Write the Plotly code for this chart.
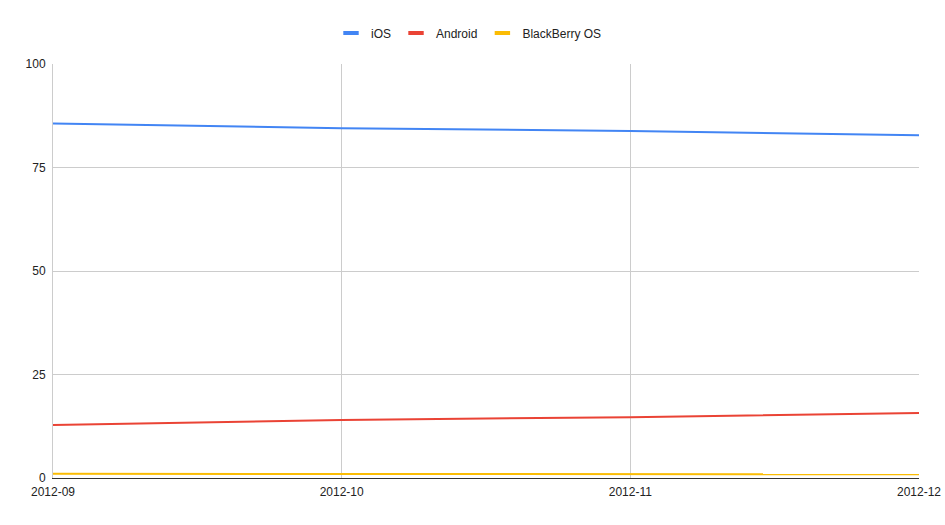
import plotly.graph_objects as go

months = ["2012-09", "2012-10", "2012-11", "2012-12"]
ios = [85.6, 84.5, 83.8, 82.8]
android = [12.8, 14.0, 14.7, 15.7]
blackberry = [1.0, 0.95, 0.95, 0.9]

series = [("iOS", ios, "#4285F4"), ("Android", android, "#EA4335"), ("BlackBerry OS", blackberry, "#FBBC04")]

fig = go.Figure()
for name, vals, color in series:
    fig.add_trace(go.Scatter(x=months, y=vals, name=name, mode="lines",
                             line=dict(color=color, width=2), showlegend=False))
for name, vals, color in series:
    fig.add_trace(go.Scatter(x=[None], y=[None], name=name, mode="markers",
                             marker=dict(symbol="line-ew-open", size=11, color=color,
                                         line=dict(color=color, width=4))))

W, H = 945, 525
fig.update_layout(
    width=W, height=H,
    margin=dict(l=53, r=26, t=64, b=47),
    paper_bgcolor="white", plot_bgcolor="white",
    font=dict(family="Liberation Sans, Arial, sans-serif", size=12, color="#222222"),
    legend=dict(orientation="h", x=469 / W, xanchor="center", xref="container",
                y=1 - 33 / H, yanchor="middle", yref="container",
                font=dict(size=12, color="#222222"), itemwidth=30),
    xaxis=dict(type="category", range=[0, 3], showgrid=True, gridcolor="#cccccc",
               gridwidth=1, showline=True, linecolor="#333333", linewidth=1,
               ticks="", tickfont=dict(size=12, color="#222222"), zeroline=False,
               automargin=False, ticklabelstandoff=3),
    yaxis=dict(range=[0, 100], tickvals=[0, 25, 50, 75, 100], showgrid=True,
               gridcolor="#cccccc", gridwidth=1, showline=True, linecolor="#cccccc",
               ticks="", tickfont=dict(size=12, color="#222222"), zeroline=False,
               automargin=False, ticklabelstandoff=4),
)
fig.write_html("out.html", config={"displayModeBar": False},
               post_script="document.body.style.margin='0';document.body.style.overflow='hidden';")
